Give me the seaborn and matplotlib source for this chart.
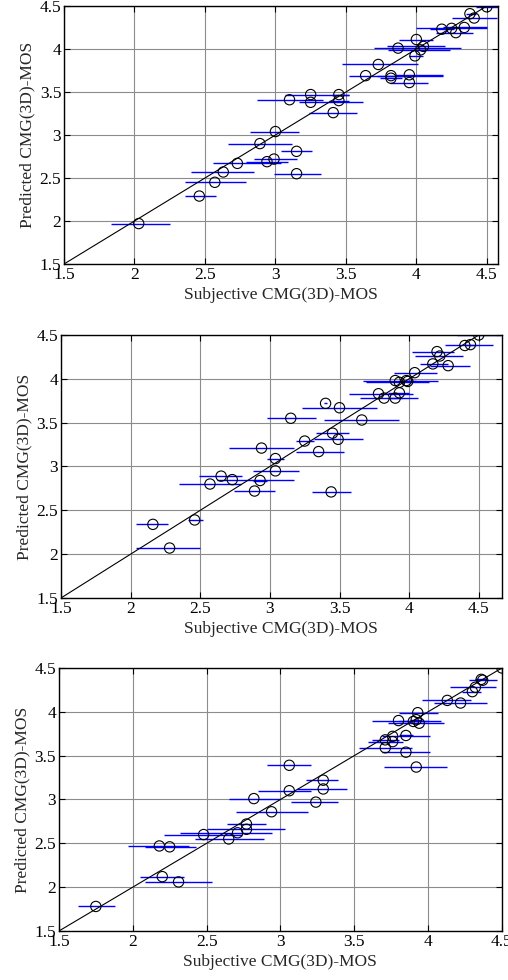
"""Predicted vs subjective CMG(3D)-MOS scatter plots with confidence bars."""

import matplotlib

matplotlib.use("Agg")
import matplotlib.pyplot as plt
import numpy as np
import pandas as pd
import seaborn as sns

# panel (a)
subj_a = [4.50, 4.38, 4.41, 4.18, 4.25, 4.28, 4.34, 4.00, 3.87, 4.03, 4.05, 3.99,
          3.73, 3.64, 3.82, 3.82, 3.95, 3.95, 3.25, 3.45, 3.10, 3.25, 3.45, 3.41,
          3.00, 2.89, 3.15, 2.99, 2.94, 2.73, 2.63, 2.57, 2.46, 3.15, 2.03]
pred_a = [4.49, 4.41, 4.36, 4.23, 4.24, 4.19, 4.25, 4.11, 4.01, 3.99, 4.03, 3.92,
          3.82, 3.69, 3.69, 3.66, 3.70, 3.61, 3.47, 3.47, 3.41, 3.38, 3.40, 3.26,
          3.04, 2.90, 2.81, 2.72, 2.69, 2.67, 2.57, 2.45, 2.29, 2.55, 1.97]
lo_a = [4.42, 4.35, 4.25, 4.10, 4.00, 4.14, 4.19, 3.88, 3.70, 3.80, 3.79, 3.95,
        3.47, 3.52, 3.72, 3.74, 3.85, 3.81, 3.07, 3.40, 2.87, 3.17, 3.38, 3.24,
        2.82, 2.66, 3.04, 2.85, 2.79, 2.56, 2.40, 2.36, 2.36, 2.99, 1.83]
hi_a = [4.58, 4.42, 4.57, 4.27, 4.50, 4.40, 4.50, 4.12, 4.32, 4.24, 4.20, 4.05,
        4.01, 4.19, 3.92, 3.90, 4.19, 4.08, 3.52, 3.52, 3.34, 3.62, 3.52, 3.58,
        3.17, 3.12, 3.26, 3.15, 3.09, 3.04, 2.85, 2.79, 2.58, 3.32, 2.25]

# panel (b)
subj_b = [4.50, 4.40, 4.44, 4.20, 4.22, 4.17, 4.28, 4.04, 3.90, 3.93, 3.98, 3.99,
          3.78, 3.82, 3.90, 3.93, 3.40, 3.50, 3.15, 3.66, 3.25, 3.45, 3.49, 3.35,
          2.94, 3.04, 3.04, 2.65, 2.73, 2.93, 2.57, 2.89, 3.44, 2.46, 2.16, 2.28]
pred_b = [4.50, 4.38, 4.39, 4.31, 4.26, 4.17, 4.15, 4.07, 3.98, 3.96, 3.98, 3.97,
          3.83, 3.78, 3.78, 3.84, 3.72, 3.67, 3.55, 3.53, 3.29, 3.38, 3.31, 3.17,
          3.21, 3.09, 2.95, 2.89, 2.85, 2.84, 2.80, 2.72, 2.71, 2.39, 2.34, 2.07]
lo_b = [4.34, 4.26, 4.40, 4.02, 4.04, 4.08, 4.15, 3.89, 3.67, 3.69, 3.93, 3.94,
        3.57, 3.65, 3.85, 3.85, 3.39, 3.23, 2.98, 3.39, 3.19, 3.33, 3.32, 3.19,
        2.71, 2.98, 2.88, 2.49, 2.62, 2.88, 2.35, 2.74, 3.30, 2.41, 2.04, 2.04]
hi_b = [4.66, 4.60, 4.48, 4.32, 4.39, 4.28, 4.44, 4.20, 4.21, 4.14, 4.03, 4.05,
        4.03, 4.06, 3.95, 4.00, 3.41, 3.77, 3.33, 3.93, 3.32, 3.57, 3.67, 3.53,
        3.17, 3.10, 3.21, 2.80, 3.17, 2.98, 2.79, 3.04, 3.58, 2.52, 2.27, 2.50]

# panel (c)
subj_c = [4.50, 4.37, 4.36, 4.32, 4.30, 4.13, 4.22, 3.93, 3.80, 3.90, 3.94, 3.92,
          3.76, 3.85, 3.76, 3.71, 3.71, 3.85, 3.92, 3.06, 3.29, 3.29, 3.06, 2.82,
          3.24, 2.94, 2.77, 2.77, 2.71, 2.48, 2.65, 2.18, 2.25, 2.20, 2.31, 1.75]
pred_c = [4.50, 4.36, 4.37, 4.28, 4.23, 4.13, 4.10, 3.99, 3.90, 3.89, 3.87, 3.91,
          3.72, 3.73, 3.66, 3.68, 3.59, 3.54, 3.37, 3.39, 3.22, 3.12, 3.10, 3.01,
          2.97, 2.86, 2.72, 2.66, 2.62, 2.60, 2.55, 2.47, 2.46, 2.12, 2.06, 1.78]
lo_c = [4.48, 4.28, 4.32, 4.15, 4.23, 3.96, 4.04, 3.80, 3.62, 3.80, 3.73, 3.88,
        3.69, 3.80, 3.59, 3.62, 3.53, 3.69, 3.70, 2.91, 3.17, 3.11, 2.85, 2.65,
        3.07, 2.70, 2.64, 2.50, 2.32, 2.21, 2.42, 1.97, 2.08, 2.05, 2.08, 1.63]
hi_c = [4.52, 4.47, 4.40, 4.46, 4.36, 4.29, 4.40, 4.07, 4.09, 4.00, 4.11, 3.96,
        4.01, 3.90, 3.83, 3.80, 3.89, 4.01, 4.13, 3.21, 3.39, 3.45, 3.21, 3.00,
        3.39, 3.19, 2.90, 3.03, 2.94, 2.74, 2.89, 2.38, 2.43, 2.35, 2.54, 1.88]

ticks = [1.5, 2, 2.5, 3, 3.5, 4, 4.5]
tick_labels = ["1.5", "2", "2.5", "3", "3.5", "4", "4.5"]
x_label = "Subjective CMG(3D)-MOS"
y_label = "Predicted CMG(3D)-MOS"

panels = [
    (subj_a, pred_a, lo_a, hi_a, [0.126, 0.7306, 0.854, 0.2633], 4.578),
    (subj_b, pred_b, lo_b, hi_b, [0.120, 0.3898, 0.868, 0.2684], 4.666),
    (subj_c, pred_c, lo_c, hi_c, [0.116, 0.0500, 0.872, 0.2684], 4.5),
]

sns.set_theme(style="ticks")
plt.rcParams["font.family"] = ["Liberation Serif", "DejaVu Serif"]
plt.rcParams["font.size"] = 12.5

fig = plt.figure(figsize=(5.08, 9.8), dpi=100)

for subj, pred, lo, hi, rect, xmax in panels:
    ax = fig.add_axes(rect)
    df = pd.DataFrame({"subj": subj, "pred": pred, "lo": lo, "hi": hi})
    ax.grid(True, color="#8c8c8c", linewidth=0.8, linestyle="-")
    ax.set_axisbelow(True)
    ax.hlines(df["pred"], df["lo"], df["hi"], colors="#0000ff", linewidth=1.0, zorder=2)
    diag = pd.DataFrame({"x": [1.5, 4.5], "y": [1.5, 4.5]})
    sns.lineplot(data=diag, x="x", y="y", color="black", linewidth=0.8, ax=ax, zorder=3)
    sns.scatterplot(data=df, x="subj", y="pred", marker="o", s=55, facecolors="none",
                    edgecolor="black", linewidth=0.8, ax=ax, zorder=4)
    ax.set_xlim(1.5, xmax)
    ax.set_ylim(1.5, 4.5)
    ax.set_xticks(ticks)
    ax.set_xticklabels(tick_labels)
    ax.set_yticks(ticks)
    ax.set_yticklabels(tick_labels)
    ax.tick_params(direction="in", top=True, right=True, length=4, width=0.8,
                   labelsize=12.5, pad=2, colors="black")
    for spine in ax.spines.values():
        spine.set_visible(True)
        spine.set_color("black")
        spine.set_linewidth(1.0)
    ax.set_xlabel(x_label, fontsize=12.5, labelpad=3)
    ax.set_ylabel(y_label, fontsize=12.5, labelpad=3)

fig.savefig("out.png", dpi=100)
plt.close(fig)
